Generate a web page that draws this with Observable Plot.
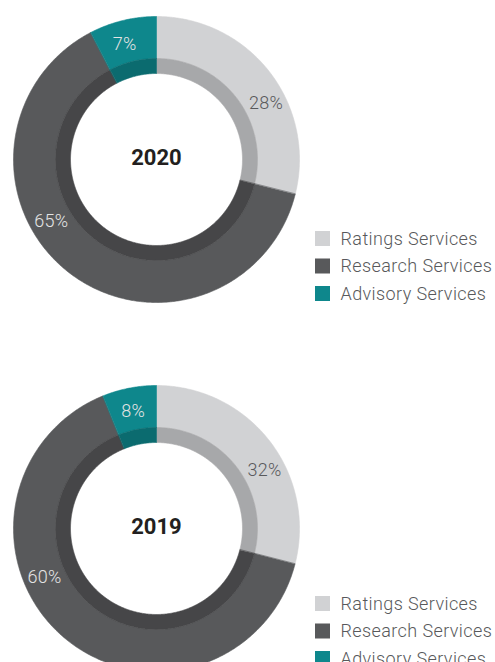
<!DOCTYPE html>
<html>
<head>
<meta charset="utf-8">
<script src="https://cdn.jsdelivr.net/npm/d3@7"></script>
<script src="https://cdn.jsdelivr.net/npm/@observablehq/plot@0.6"></script>
<style>
  html, body { margin: 0; padding: 0; background: #fff; }
  #chart { width: 495px; height: 662px; overflow: hidden; }
  [aria-label="legend-text"], [aria-label="legend-text"] text { letter-spacing: 0.4px; }
  [aria-label="pct"], [aria-label="pct"] text { letter-spacing: 0.3px; }
</style>
</head>
<body>
<div id="chart"></div>
<script>
// ---- data ----
const categories = ["Ratings Services", "Research Services", "Advisory Services"];
const years = ["2020", "2019"];
// percentages printed on the chart
const labels2020 = [28, 65, 7];
const labels2019 = [32, 60, 8];
// slice sizes as drawn in the picture (percent of the ring)
const arcs2020 = [28.9, 63.5, 7.6];
const arcs2019 = [29.0, 64.9, 6.1];
const labelsByYear = {"2020": labels2020, "2019": labels2019};
const arcsByYear = {"2020": arcs2020, "2019": arcs2019};

// ---- layout / style (not data) ----
const W = 495, H = 662;
const panels = {"2020": {cx: 156, cy: 159, legendY: 238.5}, "2019": {cx: 156, cy: 528, legendY: 603.5}};
const labelAngles = {"2020": [63, 239.5, 344.6], "2019": [61.5, 246.5, 348.8]};
const labelRadius = [123, 122, 119.5];
const outerColors = ["#d1d2d4", "#58595b", "#0e878c"];
const innerColors = ["#a7a8aa", "#464648", "#0b6b6f"];
const darkLabel = "#58595b", lightLabel = "#e4e4e4";
const R_OUT = 143, R_MID = 101, R_IN = 86;

const colorDomain = [...categories.map(c => c + "|outer"), ...categories.map(c => c + "|inner")];
const colorRange = [...outerColors, ...innerColors];

function arcPoints(cx, cy, r0, r1, a0, a1, id, key) {
  const pts = [];
  const n = Math.max(2, Math.ceil((a1 - a0) / (Math.PI / 360)));
  for (let i = 0; i <= n; i++) {
    const a = a0 + (a1 - a0) * i / n;
    pts.push({id, key, x: cx + r1 * Math.sin(a), y: cy - r1 * Math.cos(a)});
  }
  for (let i = n; i >= 0; i--) {
    const a = a0 + (a1 - a0) * i / n;
    pts.push({id, key, x: cx + r0 * Math.sin(a), y: cy - r0 * Math.cos(a)});
  }
  return pts;
}

const polys = [];
const labels = [];
const yearLabels = [];
const legendRows = [];
for (const year of years) {
  const {cx, cy, legendY} = panels[year];
  const pie = d3.pie().sort(null).value(d => d)(arcsByYear[year]);
  pie.forEach((s, i) => {
    const cat = categories[i];
    polys.push(...arcPoints(cx, cy, R_MID, R_OUT, s.startAngle, s.endAngle, year + cat + "o", cat + "|outer"));
    polys.push(...arcPoints(cx, cy, R_IN, R_MID, s.startAngle, s.endAngle, year + cat + "i", cat + "|inner"));
    const a = labelAngles[year][i] * Math.PI / 180;
    labels.push({x: cx + labelRadius[i] * Math.sin(a), y: cy - labelRadius[i] * Math.cos(a), text: labelsByYear[year][i] + "%", light: i > 0});
  });
  yearLabels.push({x: cx, y: cy, text: year});
  categories.forEach((cat, i) => {
    legendRows.push({y: legendY + i * 27.5, cat, key: cat + "|outer"});
  });
}

const plot = Plot.plot({
  width: W,
  height: H,
  margin: 0,
  style: {fontFamily: "Roboto, 'Liberation Sans', sans-serif", background: "#fff"},
  x: {domain: [0, W], range: [0, W], axis: null},
  y: {domain: [0, H], range: [0, H], axis: null},
  color: {type: "ordinal", domain: colorDomain, range: colorRange},
  marks: [
    Plot.line(polys, {x: "x", y: "y", z: "id", fill: "key", stroke: "key", strokeWidth: 0.6, curve: "linear-closed"}),
    Plot.text(labels.filter(d => !d.light), {x: "x", y: "y", text: "text", fill: darkLabel, fontSize: 18, fontWeight: 300, ariaLabel: () => "pct"}),
    Plot.text(labels.filter(d => d.light), {x: "x", y: "y", text: "text", fill: lightLabel, fontSize: 18, fontWeight: 300, ariaLabel: () => "pct"}),
    Plot.text(yearLabels, {x: "x", y: "y", dy: -2, text: "text", fill: "#231f20", fontSize: 22, fontWeight: "bold"}),
    Plot.rect(legendRows, {x1: 315, x2: 330, y1: d => d.y - 7.5, y2: d => d.y + 7.5, fill: "key"}),
    Plot.text(legendRows, {x: 340, y: "y", text: "cat", textAnchor: "start", fill: "#58595b", fontSize: 18, fontWeight: 300, ariaLabel: () => "legend-text"})
  ]
});
document.getElementById("chart").appendChild(plot);
</script>
</body>
</html>
